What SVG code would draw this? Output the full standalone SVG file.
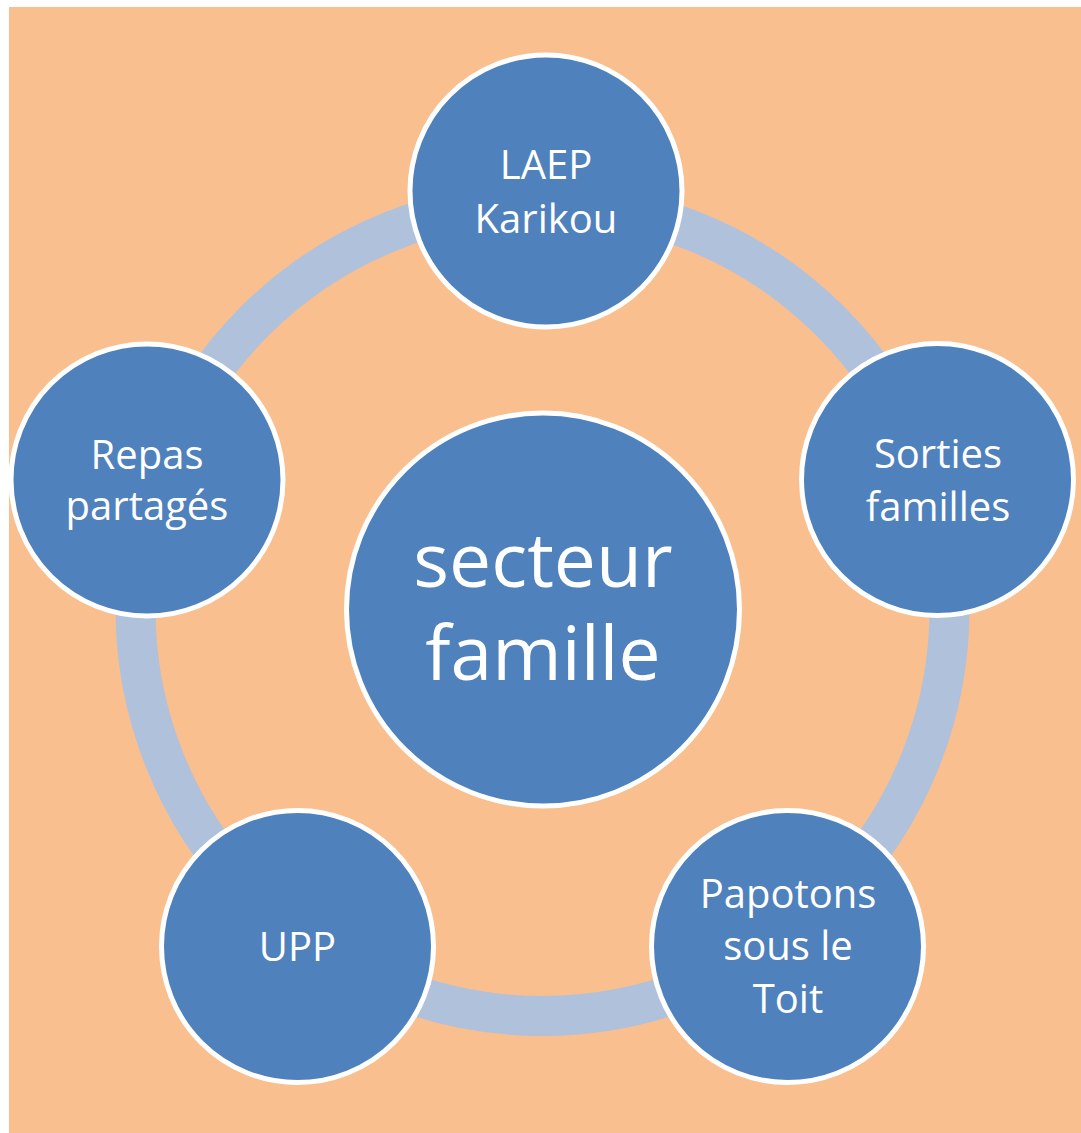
<svg xmlns="http://www.w3.org/2000/svg" width="1081" height="1133" viewBox="0 0 1081 1133">
  <style>
    .node { fill: #4F81BD; stroke: #FFFFFF; stroke-width: 5; }
    .lbl { font-family: "Open Sans", "DejaVu Sans", sans-serif; font-size: 40px; fill: #FFFFFF; text-anchor: middle; }
    .big { font-size: 75px; }
    .ring { fill: none; stroke: #B0C1DC; stroke-width: 40; }
  </style>
  <rect x="0" y="0" width="1081" height="1133" fill="#FFFFFF"/>
  <rect x="9" y="7" width="1072" height="1126" fill="#F9BF8F"/>
  <g id="connectors">
    <circle class="ring" cx="542.5" cy="609" r="407"/>
  </g>
  <g id="center">
    <circle class="node" cx="543" cy="609.5" r="196.5"/>
    <text class="lbl big" x="543" y="587">secteur</text>
    <text class="lbl big" x="543" y="680">famille</text>
  </g>
  <g id="laep">
    <circle class="node" cx="546" cy="191" r="136"/>
    <text class="lbl" x="546" y="179">LAEP</text>
    <text class="lbl" x="546" y="233">Karikou</text>
  </g>
  <g id="sorties">
    <circle class="node" cx="937.5" cy="479.5" r="136"/>
    <text class="lbl" x="938" y="468">Sorties</text>
    <text class="lbl" x="938" y="521">familles</text>
  </g>
  <g id="papotons">
    <circle class="node" cx="787.5" cy="946.5" r="136"/>
    <text class="lbl" x="788" y="908">Papotons</text>
    <text class="lbl" x="788" y="960">sous le</text>
    <text class="lbl" x="788" y="1013">Toit</text>
  </g>
  <g id="upp">
    <circle class="node" cx="297.5" cy="946.5" r="136"/>
    <text class="lbl" x="297.5" y="961">UPP</text>
  </g>
  <g id="repas">
    <circle class="node" cx="147" cy="480" r="136"/>
    <text class="lbl" x="147" y="469">Repas</text>
    <text class="lbl" x="147" y="520">partagés</text>
  </g>
</svg>
